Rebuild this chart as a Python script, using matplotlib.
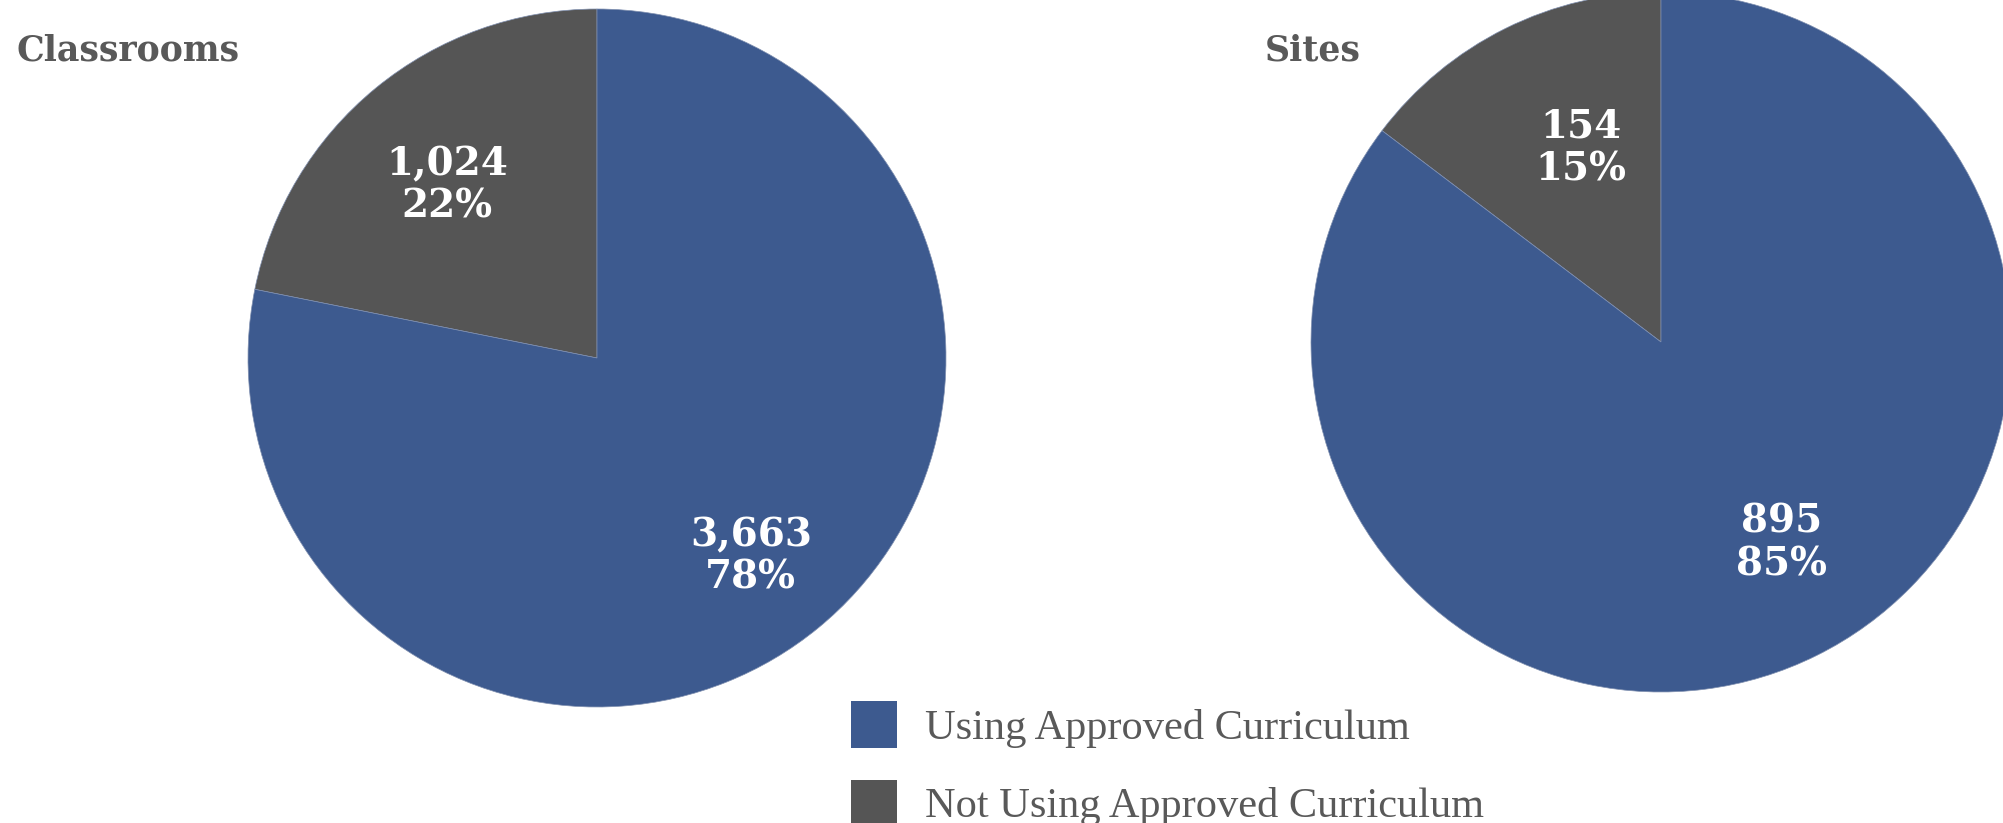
import numpy as np
import matplotlib
matplotlib.use("Agg")
import matplotlib.pyplot as plt
from matplotlib.patches import Rectangle

# ---- data ----
categories = ["Using Approved Curriculum", "Not Using Approved Curriculum"]
chart_titles = ["Classrooms", "Sites"]
classrooms = [3663, 1024]
sites = [895, 154]

colors = ["#3d5a8f", "#555555"]
text_gray = "#595959"

W, H = 2003, 823
fig = plt.figure(figsize=(W / 100, H / 100), dpi=100)
ax = fig.add_axes([0, 0, 1, 1])

# layout: center, radius, title position, label placement (distance fraction, angle offset)
pies = [
    (classrooms, (597, H - 358), 349, (17, H - 50), [(0.655, 1.7), (0.72, -1.6)]),
    (sites, (1661, H - 342), 350, (1265, H - 50), [(0.60, -3.9), (0.67, 4.6)]),
]

for (vals, center, r, tpos, lpos), title in zip(pies, chart_titles):
    # draw "Not Using" first so it starts at 12 o'clock going counter-clockwise
    order = [1, 0]
    v = [vals[i] for i in order]
    c = [colors[i] for i in order]
    wedges, _ = ax.pie(v, colors=c, startangle=90, counterclock=True,
                       center=center, radius=r,
                       wedgeprops=dict(edgecolor="#8090b0", linewidth=0.5))
    total = sum(v)
    for w, val, (dfrac, aoff) in zip(wedges, v, lpos):
        mid = np.deg2rad((w.theta1 + w.theta2) / 2 + aoff)
        d = dfrac * r
        x = center[0] + d * np.cos(mid)
        y = center[1] + d * np.sin(mid)
        ax.text(x, y, f"{val:,}\n{round(val / total * 100)}%",
                ha="center", va="center", color="white",
                fontsize=28, fontweight="bold", family="DejaVu Serif",
                linespacing=1.15)
    ax.text(tpos[0], tpos[1], title, ha="left", va="center",
            color=text_gray, fontsize=25, fontweight="bold",
            family="DejaVu Serif")

# legend
leg_y = [H - 724, H - 803]
for cat, col, y in zip(categories, colors, leg_y):
    ax.add_patch(Rectangle((851, y - 23.5), 46, 47, facecolor=col,
                           edgecolor="none", clip_on=False))
    ax.text(925, y - 4, cat, ha="left", va="center", color=text_gray,
            fontsize=30.5, family="Liberation Serif")

ax.set_xlim(0, W)
ax.set_ylim(0, H)
ax.set_aspect("equal")
ax.axis("off")

fig.savefig("out.png", dpi=100)
